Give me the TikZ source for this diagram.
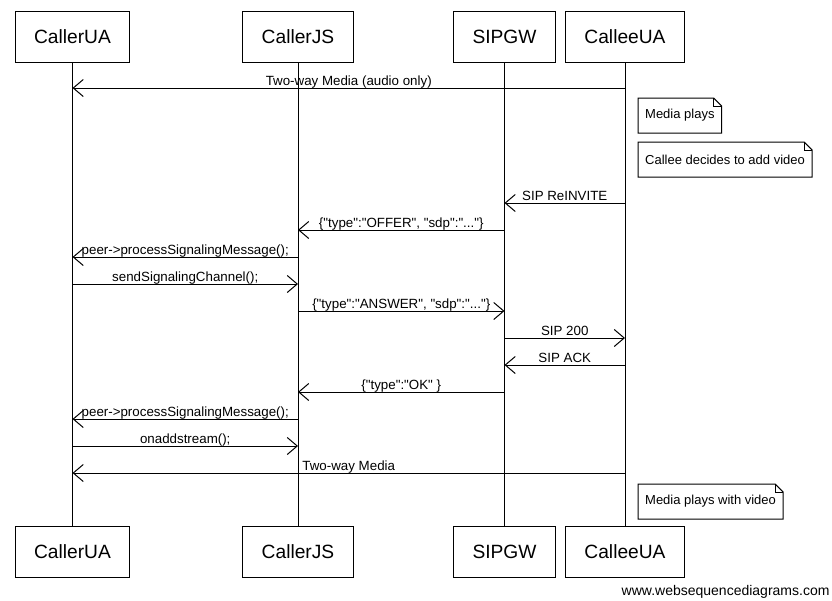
\documentclass[tikz,border=0pt]{standalone}
\usepackage{fontspec}
\setmainfont{Liberation Sans}[Ligatures=TeXOff]
\usetikzlibrary{arrows.meta}

\begin{document}
\begin{tikzpicture}[x=0.75pt,y=-0.75pt,line width=0.75pt,
  actor/.style={draw, minimum height=38.25pt, inner xsep=14.25pt, font=\fontsize{14.4}{16}\selectfont},
  msg/.style={-{Straight Barb[length=7.5pt,width=12.75pt]}},
  lbl/.style={midway, above=-2.25pt, inner sep=1.5pt, text depth=2.1pt, font=\fontsize{10}{12}\selectfont},
  note/.style={anchor=north west, minimum height=25.5pt, inner xsep=5pt, font=\fontsize{9.75}{12}\selectfont}]
\useasboundingbox (0,0) rectangle (832,600);

% participants
\node[actor] (uaT) at (72.5,36.5) {CallerUA};
\node[actor] (jsT) at (298,36.5) {CallerJS};
\node[actor] (gwT) at (504.5,36.5) {SIPGW};
\node[actor] (ceT) at (625,36.5) {CalleeUA};
\node[actor] (uaB) at (72.5,551.5) {CallerUA};
\node[actor] (jsB) at (298,551.5) {CallerJS};
\node[actor] (gwB) at (504.5,551.5) {SIPGW};
\node[actor] (ceB) at (625,551.5) {CalleeUA};
\draw (uaT) -- (uaB); \draw (jsT) -- (jsB);
\draw (gwT) -- (gwB); \draw (ceT) -- (ceB);

% message rows
\coordinate (r1) at (0,88);  \coordinate (r2) at (0,203); \coordinate (r3) at (0,230);
\coordinate (r4) at (0,257); \coordinate (r5) at (0,284); \coordinate (r6) at (0,311);
\coordinate (r7) at (0,338); \coordinate (r8) at (0,365); \coordinate (r9) at (0,392);
\coordinate (r10) at (0,419); \coordinate (r11) at (0,446); \coordinate (r12) at (0,473);

\draw[msg] (ceT |- r1) -- (uaT |- r1) node[lbl] {Two-way Media (audio only)};

\node[note] (n1) at (638,98) {Media plays};
\draw (n1.north west) -- ([xshift=-6pt]n1.north east) -- ([yshift=-6pt]n1.north east) -- (n1.south east) -- (n1.south west) -- cycle;
\draw ([xshift=-6pt]n1.north east) |- ([yshift=-6pt]n1.north east);
\node[note] (n2) at (638,142) {Callee decides to add video};
\draw (n2.north west) -- ([xshift=-6pt]n2.north east) -- ([yshift=-6pt]n2.north east) -- (n2.south east) -- (n2.south west) -- cycle;
\draw ([xshift=-6pt]n2.north east) |- ([yshift=-6pt]n2.north east);

\draw[msg] (ceT |- r2) -- (gwT |- r2) node[lbl] {SIP ReINVITE};
\draw[msg] (gwT |- r3) -- (jsT |- r3) node[lbl] {\{"type":"OFFER", "sdp":"..."\}};
\draw[msg] (jsT |- r4) -- (uaT |- r4) node[lbl] {peer->processSignalingMessage();};
\draw[msg] (uaT |- r5) -- (jsT |- r5) node[lbl] {sendSignalingChannel();};
\draw[msg] (jsT |- r6) -- (gwT |- r6) node[lbl] {\{"type":"ANSWER", "sdp":"..."\}};
\draw[msg] (gwT |- r7) -- (ceT |- r7) node[lbl] {SIP 200};
\draw[msg] (ceT |- r8) -- (gwT |- r8) node[lbl] {SIP ACK};
\draw[msg] (gwT |- r9) -- (jsT |- r9) node[lbl] {\{"type":"OK" \}};
\draw[msg] (jsT |- r10) -- (uaT |- r10) node[lbl] {peer->processSignalingMessage();};
\draw[msg] (uaT |- r11) -- (jsT |- r11) node[lbl] {onaddstream();};
\draw[msg] (ceT |- r12) -- (uaT |- r12) node[lbl] {Two-way Media};

\node[note] (n3) at (638,484) {Media plays with video};
\draw (n3.north west) -- ([xshift=-6pt]n3.north east) -- ([yshift=-6pt]n3.north east) -- (n3.south east) -- (n3.south west) -- cycle;
\draw ([xshift=-6pt]n3.north east) |- ([yshift=-6pt]n3.north east);

\node[anchor=east, inner sep=0pt, font=\fontsize{10.5}{12}\selectfont] (site) at (830,592) {www.websequencediagrams.com};
\end{tikzpicture}
\end{document}
